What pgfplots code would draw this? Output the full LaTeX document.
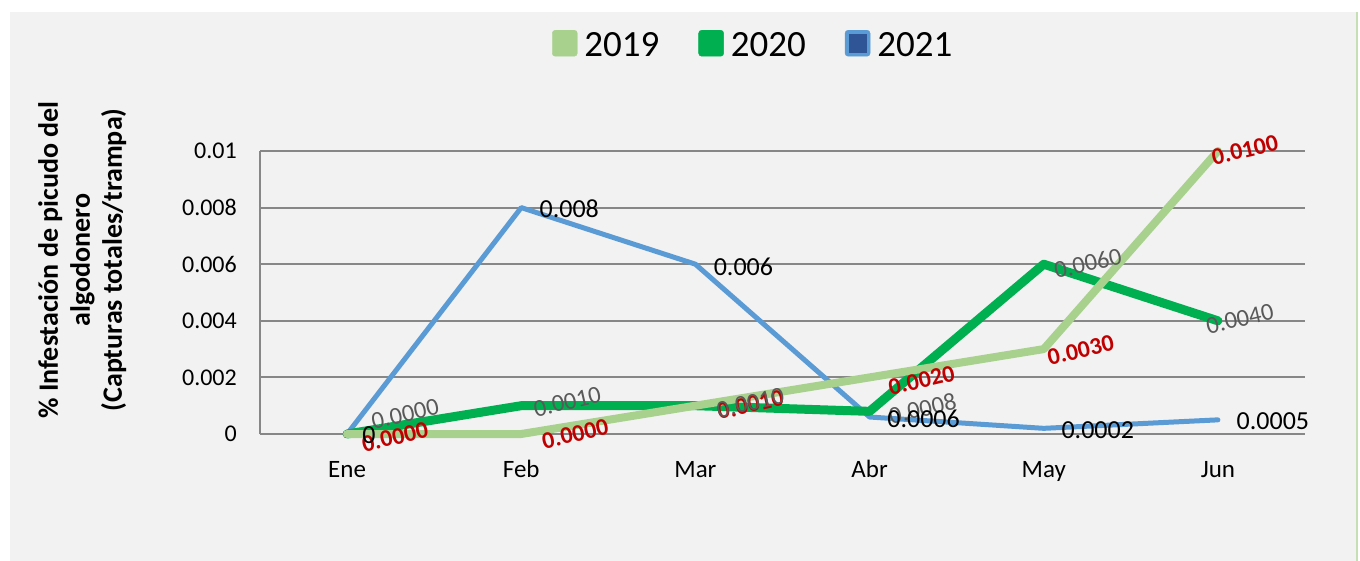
\documentclass[border=0pt]{standalone}
\usepackage{pgfplots}
\pgfplotsset{compat=1.18}
\usepackage{pgfplotstable}
\usepackage{fontspec}
\setmainfont{Carlito}
\definecolor{bg}{HTML}{F2F2F2}
\definecolor{gridgray}{HTML}{878787}
\definecolor{cA}{HTML}{A9D18E}
\definecolor{cB}{HTML}{00B050}
\definecolor{cC}{HTML}{5B9BD5}
\definecolor{cCdark}{HTML}{2F5597}
\definecolor{labred}{HTML}{C00000}
\definecolor{labgray}{HTML}{595959}
\definecolor{edge}{HTML}{C5E0B4}

\pgfplotstableread{
x y lab dx dy
0 0 0.0000 48 -3
1 0 0.0000 54 0
2 0.001 0.0010 55 1
3 0.002 0.0020 52 -3
4 0.003 0.0030 37 -1
5 0.010 0.0100 27 1
}\tabA
\pgfplotstableread{
x y lab dx dy
0 0 0.0000 58 20
1 0.001 0.0010 46 4
2 0.001 0.0010 55 3
3 0.0008 0.0008 53 3
4 0.006 0.0060 44 1
5 0.004 0.0040 22 2
}\tabB
\pgfplotstableread{
x y lab dx dy
0 0 0 22 -1
1 0.008 0.008 48 -1
2 0.006 0.006 48 -3
3 0.0006 0.0006 54 -2
4 0.0002 0.0002 54 -2
5 0.0005 0.0005 55 -1
}\tabC

\begin{document}
\begin{tikzpicture}[x=1pt,y=1pt]
\fill[white] (0,-40) rectangle (1360,560);
\fill[bg] (10,-40) rectangle (1356,548);
\fill[edge] (1356,-40) rectangle (1358,548);
\begin{axis}[
  at={(260pt,126pt)}, anchor=south west,
  scale only axis, width=1045pt, height=283pt,
  xmin=-0.5, xmax=5.5, ymin=0, ymax=0.01,
  clip=false,
  axis x line=bottom, axis y line=left,
  axis line style={-, draw=gridgray, line width=2pt},
  ymajorgrids, major grid style={draw=gridgray, line width=2pt},
  major tick length=0pt, tick style={draw=none},
  xtick={0,1,2,3,4,5},
  xticklabels={Ene,Feb,Mar,Abr,May,Jun},
  ytick={0,0.002,0.004,0.006,0.008,0.01},
  yticklabels={0,0.002,0.004,0.006,0.008,0.01},
  scaled y ticks=false,
  /pgf/number format/assume math mode=true,
  ticklabel style={font=\fontsize{24}{28}\selectfont, inner sep=0pt},
  xticklabel style={anchor=base, yshift=-43pt, font=\fontsize{25}{28}\selectfont},
  yticklabel style={anchor=east, xshift=-23pt},
  ylabel={\% Infestación de picudo del\\algodonero\\(Capturas totales/trampa)},
  ylabel style={at={(axis description cs:-0.170,0.615)}, anchor=center, align=center, font=\bfseries\fontsize{28}{32}\selectfont},
  legend style={at={(axis description cs:0.471,1.378)}, anchor=center, draw=none, fill=none,
    font=\fontsize{37}{40}\selectfont, nodes={inner sep=0pt},
    /tikz/every even column/.append style={column sep=39pt},
    /tikz/every odd column/.append style={column sep=7pt}},
  legend columns=3, legend cell align=left,
]
\addlegendimage{legend image code/.code={\fill[cA,rounded corners=3pt] (0pt,-11pt) rectangle (25pt,15pt);}}
\addlegendentry{2019}
\addlegendimage{legend image code/.code={\fill[cB,rounded corners=3pt] (0pt,-11pt) rectangle (25pt,15pt);}}
\addlegendentry{2020}
\addlegendimage{legend image code/.code={\fill[cC,rounded corners=3pt] (0pt,-11pt) rectangle (25pt,15pt); \fill[cCdark] (4pt,-7pt) rectangle (21pt,11pt);}}
\addlegendentry{2021}

\addplot[cC, line width=5pt, line join=round, line cap=round, forget plot] table[x=x,y=y]{\tabC};
\addplot[cB, line width=9pt, line join=round, line cap=round, forget plot] table[x=x,y=y]{\tabB};
\addplot[cA, line width=8pt, line join=round, line cap=round, forget plot] table[x=x,y=y]{\tabA};

\addplot[draw=none, forget plot, nodes near coords, point meta=explicit symbolic,
  visualization depends on={\thisrow{dx}\as\labdx},
  visualization depends on={\thisrow{dy}\as\labdy},
  every node near coord/.append style={anchor=center, xshift=\labdx pt, yshift=\labdy pt, rotate=13,
    text=labred, font=\bfseries\fontsize{24}{26}\selectfont, inner sep=0pt}]
  table[x=x,y=y,meta=lab]{\tabA};
\addplot[draw=none, forget plot, nodes near coords, point meta=explicit symbolic,
  visualization depends on={\thisrow{dx}\as\labdx},
  visualization depends on={\thisrow{dy}\as\labdy},
  every node near coord/.append style={anchor=center, xshift=\labdx pt, yshift=\labdy pt, rotate=13,
    text=labgray, font=\fontsize{24.5}{26}\selectfont, inner sep=0pt}]
  table[x=x,y=y,meta=lab]{\tabB};
\addplot[draw=none, forget plot, nodes near coords, point meta=explicit symbolic,
  visualization depends on={\thisrow{dx}\as\labdx},
  visualization depends on={\thisrow{dy}\as\labdy},
  every node near coord/.append style={anchor=center, xshift=\labdx pt, yshift=\labdy pt,
    text=black, font=\fontsize{26}{28}\selectfont, inner sep=0pt}]
  table[x=x,y=y,meta=lab]{\tabC};
\end{axis}
\pgfresetboundingbox
\path[use as bounding box] (0,0) rectangle (1360,560);
\end{tikzpicture}
\end{document}
